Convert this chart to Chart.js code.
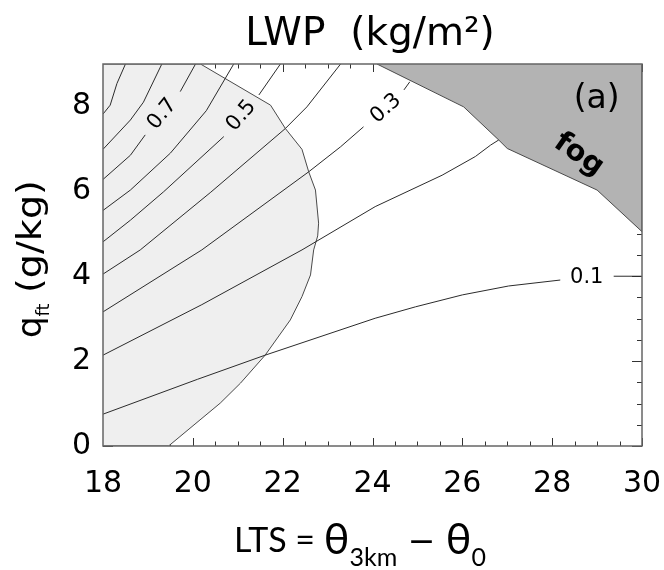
<!DOCTYPE html>
<html lang="en">
<head>
<meta charset="UTF-8" />
<title>LWP (kg/m2)</title>
<script src="https://cdn.jsdelivr.net/npm/chart.js@4.4.1/dist/chart.umd.min.js"></script>
<style>
  html, body { margin: 0; padding: 0; background: #fff; }
  #wrap { width: 664px; height: 570px; }
</style>
</head>
<body>
<div id="wrap"><canvas id="lwpChart" width="664" height="570"></canvas></div>
<script>
// axes
const xRange = [18, 30];
const yRange = [0, 9];
const xTickValues = [18, 20, 22, 24, 26, 28, 30];
const yTickValues = [0, 2, 4, 6, 8];
const minorStep = 0.5;

// LWP contours, points are [LTS, q_ft]; null leaves the gap for a label
const lwp09 = [[18, 7.82], [18.16, 8.03], [18.31, 8.54], [18.5, 9]];
const lwp08 = [[18, 6.99], [18.61, 7.68], [18.9, 8.1], [19.31, 9]];
const lwp07 = [[18, 6.28], [18.61, 6.85], [18.94, 7.33], null, [19.72, 8.35], [20.06, 9]];
const lwp06 = [[18, 5.55], [18.61, 6.03], [19.5, 6.9], [20.3, 7.9], [20.91, 9]];
const lwp05 = [[18, 4.81], [18.61, 5.32], [19.35, 5.99], [20.69, 7.29], null, [21.47, 8.27], [21.95, 9]];
const lwp04 = [[18, 4.05], [18.83, 4.62], [20.4, 5.98], [22.06, 7.48], [22.54, 7.99], [23.29, 9]];
const lwp03 = [[18, 3.16], [20.2, 4.62], [22.58, 6.46], [23.29, 7.05], [23.8, 7.52], null, [24.7, 8.39], [24.83, 8.58]];
const lwp02 = [[18, 2.14], [20.2, 3.33], [22.43, 4.62], [24.06, 5.64], [25.55, 6.38], [26.29, 6.82], [26.63, 7.09], [26.81, 7.21]];
const lwp01 = [[18, 0.75], [20.1, 1.57], [21.61, 2.14], [24.06, 3.01], [24.96, 3.28], [26.0, 3.56], [27.03, 3.77], [28.18, 3.91], null, [29.37, 4.0], [30, 4.0]];

// shaded regions
const lightRegion = [[18, 0], [19.46, 0], [20.61, 1.01], [21.06, 1.48], [21.61, 2.14], [22.17, 2.97], [22.43, 3.52],
  [22.62, 4.03], [22.69, 4.62], [22.78, 4.95], [22.80, 5.25], [22.73, 6.03], [22.58, 6.46], [22.43, 6.99],
  [22.06, 7.48], [21.73, 8.03], [20.17, 9], [18, 9]];
const fogRegion = [[24.1, 9], [26.03, 7.99], [26.81, 7.21], [27.0, 7.01], [29.0, 6.03], [30, 5.05], [30, 9]];

// contour labels
const labelText = ['0.7', '0.5', '0.3', '0.1'];
const labelX = [19.32, 21.08, 24.3, 28.77];
const labelY = [7.82, 7.78, 7.95, 3.96];
const labelAngle = [-51, -50, -42, 0];

const toXY = pts => pts.map(p => p ? { x: p[0], y: p[1] } : { x: null, y: null });

const contourSet = (pts) => ({
  data: toXY(pts),
  borderColor: '#2b2b2b',
  borderWidth: 1,
  pointRadius: 0,
  tension: 0,
  fill: false,
  spanGaps: false,
  order: 1
});

const regionSet = (pts, color) => ({
  data: toXY(pts),
  borderColor: '#4a4a4a',
  borderWidth: 1,
  backgroundColor: color,
  pointRadius: 0,
  tension: 0,
  fill: 'shape',
  order: 2
});

const whiteBg = {
  id: 'whiteBg',
  beforeDraw(chart) {
    const ctx = chart.ctx;
    ctx.save();
    ctx.fillStyle = '#fff';
    ctx.fillRect(0, 0, chart.width, chart.height);
    ctx.restore();
  }
};

// inward tick marks on all four sides, drawn under the shaded regions
const innerTicks = {
  id: 'innerTicks',
  beforeDatasetsDraw(chart) {
    const { ctx, chartArea: a, scales: { x, y } } = chart;
    ctx.save();
    ctx.strokeStyle = '#333';
    ctx.lineWidth = 1;
    ctx.beginPath();
    for (let v = xRange[0]; v <= xRange[1]; v += minorStep) {
      const px = Math.round(x.getPixelForValue(v)) + 0.5;
      const len = xTickValues.includes(v) ? 8 : 4.5;
      ctx.moveTo(px, a.bottom); ctx.lineTo(px, a.bottom - len);
      ctx.moveTo(px, a.top); ctx.lineTo(px, a.top + len);
    }
    for (let v = yRange[0]; v <= yRange[1]; v += minorStep) {
      const py = Math.round(y.getPixelForValue(v)) + 0.5;
      const len = yTickValues.includes(v) ? 10 : 5;
      ctx.moveTo(a.left, py); ctx.lineTo(a.left + len, py);
      ctx.moveTo(a.right, py); ctx.lineTo(a.right - len, py);
    }
    ctx.stroke();
    ctx.restore();
  }
};

function drawXTitle(ctx, cx) {
  const parts = [
    ['LTS = ', '34px Lato, "DejaVu Sans"', 552],
    ['\u03b8', '43px Lato, "DejaVu Sans"', 554],
    ['3km', '25px Lato, "DejaVu Sans"', 566],
    [' \u2212 ', '33px "DejaVu Sans"', 552],
    ['\u03b8', '43px Lato, "DejaVu Sans"', 554],
    ['0', '25px Lato, "DejaVu Sans"', 566]
  ];
  let total = 0;
  parts.forEach(p => { ctx.font = p[1]; total += ctx.measureText(p[0]).width; });
  let x0 = cx - total / 2;
  ctx.textAlign = 'left';
  ctx.textBaseline = 'alphabetic';
  parts.forEach(p => {
    ctx.font = p[1];
    ctx.fillText(p[0], x0, p[2]);
    x0 += ctx.measureText(p[0]).width;
  });
}

function drawYTitle(ctx) {
  ctx.save();
  ctx.translate(41, 338);
  ctx.rotate(-Math.PI / 2);
  ctx.textAlign = 'left';
  ctx.textBaseline = 'alphabetic';
  ctx.font = '34px "DejaVu Sans"';
  ctx.fillText('q', 0, 0);
  const qw = ctx.measureText('q').width;
  ctx.font = '18px "DejaVu Sans"';
  ctx.fillText('ft', qw, 8);
  ctx.font = '34px "DejaVu Sans"';
  ctx.save();
  ctx.translate(45, 0);
  ctx.scale(1.12, 1);
  ctx.fillText('(g/kg)', 0, 0);
  ctx.restore();
  ctx.restore();
}

const annotations = {
  id: 'annotations',
  afterDatasetsDraw(chart) {
    const { ctx, chartArea: a, scales: { x, y } } = chart;
    ctx.save();
    ctx.fillStyle = '#000';

    // contour value labels
    ctx.font = '21px "DejaVu Sans"';
    ctx.textAlign = 'center';
    ctx.textBaseline = 'middle';
    labelText.forEach((t, i) => {
      ctx.save();
      ctx.translate(x.getPixelForValue(labelX[i]), y.getPixelForValue(labelY[i]));
      ctx.rotate(labelAngle[i] * Math.PI / 180);
      ctx.fillText(t, 0, 0);
      ctx.restore();
    });

    // panel letter and fog tag
    ctx.font = '33px "DejaVu Sans"';
    ctx.fillText('(a)', x.getPixelForValue(28.99), y.getPixelForValue(8.17));
    ctx.save();
    ctx.translate(x.getPixelForValue(28.59), y.getPixelForValue(6.86));
    ctx.rotate(35 * Math.PI / 180);
    ctx.font = 'bold 29px "DejaVu Sans"';
    ctx.fillText('fog', 0, 0);
    ctx.restore();

    // frame
    ctx.strokeStyle = '#666';
    ctx.lineWidth = 1.5;
    ctx.strokeRect(a.left, a.top, a.right - a.left, a.bottom - a.top);

    // titles
    ctx.font = '39px "DejaVu Sans"';
    ctx.textAlign = 'center';
    ctx.textBaseline = 'alphabetic';
    ctx.fillText('LWP  (kg/m\u00b2)', 370, 45);
    drawXTitle(ctx, 360);
    drawYTitle(ctx);
    ctx.restore();
  }
};

new Chart(document.getElementById('lwpChart'), {
  type: 'line',
  data: {
    datasets: [
      contourSet(lwp09), contourSet(lwp08), contourSet(lwp07), contourSet(lwp06), contourSet(lwp05),
      contourSet(lwp04), contourSet(lwp03), contourSet(lwp02), contourSet(lwp01),
      regionSet(lightRegion, '#efefef'), regionSet(fogRegion, '#b3b3b3')
    ]
  },
  options: {
    responsive: false,
    animation: false,
    devicePixelRatio: 1,
    layout: { padding: { top: 64, right: 22, bottom: 0, left: 0 } },
    plugins: { legend: { display: false }, tooltip: { enabled: false }, title: { display: false } },
    scales: {
      x: {
        type: 'linear',
        min: xRange[0],
        max: xRange[1],
        grid: { display: false, drawTicks: false },
        border: { display: false },
        afterBuildTicks: s => { s.ticks = xTickValues.map(v => ({ value: v })); },
        afterFit: s => { s.height = 124; s.paddingLeft = 0; s.paddingRight = 0; },
        ticks: { color: '#000', padding: 20, maxRotation: 0, font: { family: 'DejaVu Sans', size: 30 } }
      },
      y: {
        type: 'linear',
        min: yRange[0],
        max: yRange[1],
        grid: { display: false, drawTicks: false },
        border: { display: false },
        afterBuildTicks: s => { s.ticks = yTickValues.map(v => ({ value: v })); },
        afterFit: s => { s.width = 103; s.paddingTop = 0; s.paddingBottom = 0; },
        ticks: { color: '#000', padding: 12, font: { family: 'DejaVu Sans', size: 30 } }
      }
    }
  },
  plugins: [whiteBg, innerTicks, annotations]
});
</script>
</body>
</html>
